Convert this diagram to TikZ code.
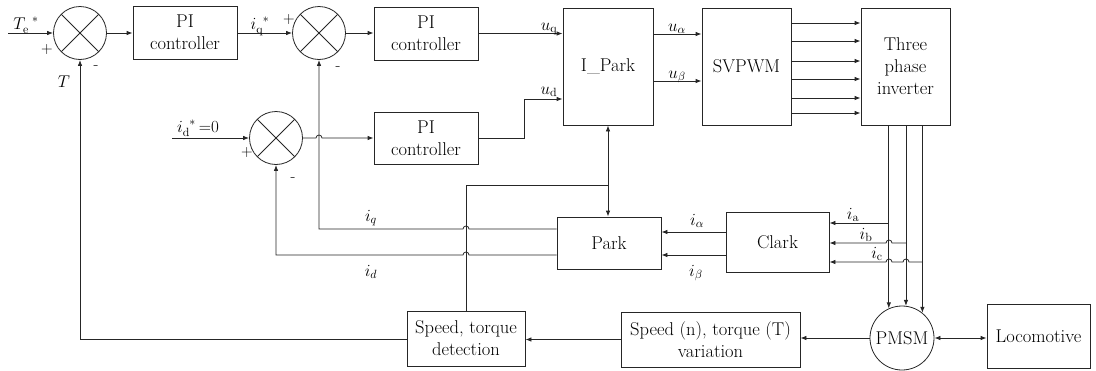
\RequirePackage{fix-cm}
\documentclass[tikz,border=0pt]{standalone}
\usetikzlibrary{arrows.meta,calc}
\newcommand\bfs{\fontsize{18.5}{22}\selectfont}
\newcommand\lfs{\fontsize{17}{19}\selectfont}
\newcommand\sfz{\fontsize{16}{16}\selectfont}
\begin{document}
\begin{tikzpicture}[x=1pt,y=-1pt, line width=0.8pt, draw=black!85,
  >={Latex[length=6pt,width=4.5pt]},
  blk/.style={draw, inner sep=0pt, align=center, font=\bfs},
  sumc/.style={circle, draw, minimum size=53pt, inner sep=0pt,
    path picture={\draw (path picture bounding box.north west) -- (path picture bounding box.south east)
      (path picture bounding box.north east) -- (path picture bounding box.south west);}},
  lab/.style={font=\lfs, inner sep=0pt, anchor=base},
  sgn/.style={font=\sfz, inner sep=0pt}]
\useasboundingbox (0,0) rectangle (1096,370);

% blocks
\node[sumc] (s1) at (80,33) {};
\node[blk, minimum width=104pt, minimum height=53pt] (pi1) at (185,32.5) {PI\\controller};
\node[sumc] (s2) at (319,33) {};
\node[blk, minimum width=104pt, minimum height=53pt] (pi2) at (426,33.5) {PI\\controller};
\node[sumc] (s3) at (276,138) {};
\node[blk, minimum width=104pt, minimum height=52pt] (pi3) at (426,138) {PI\\controller};
\node[blk, minimum width=90pt, minimum height=117pt] (ipark) at (608,66.5) {I\_Park};
\node[blk, minimum width=89pt, minimum height=117pt] (svpwm) at (746.5,66.5) {SVPWM};
\node[blk, minimum width=89pt, minimum height=117pt] (inv) at (905.5,66.5) {Three\\phase\\inverter};
\node[blk, minimum width=104pt, minimum height=52pt] (park) at (609,243) {Park};
\node[blk, minimum width=103pt, minimum height=60pt] (clark) at (777.5,242) {Clark};
\node[blk, minimum width=118pt, minimum height=55pt] (std) at (466,338.5) {Speed, torque\\detection};
\node[blk, minimum width=179pt, minimum height=55pt] (stv) at (710.5,339.5) {Speed (n), torque (T)\\variation};
\node[blk, circle, minimum size=64pt] (pmsm) at (902,338) {PMSM};
\node[blk, minimum width=103pt, minimum height=64pt] (loco) at (1038.5,336) {Locomotive};

\coordinate (te) at (8,33);
\coordinate (idin) at (172,138);

% top row
\draw[->] (te) -- (s1.west);
\draw[->] (s1.east) -- (pi1.west |- s1.east);
\draw[->] (pi1.east |- s2.west) -- (s2.west);
\draw[->] (s2.east) -- (pi2.west |- s2.east);
\draw[->] (pi2.east) -- (ipark.west |- pi2.east);
\draw[->] (idin) -- (s3.west);
\draw[->] (s3.east) -- (316,138) arc[start angle=180,end angle=0,radius=3pt] -- (pi3.west);
\draw[->] (pi3.east) -- (524,138) -- (524,99) -- (ipark.west |- 0,99);
\draw[->] (ipark.east |- 0,34) -- (svpwm.west |- 0,34);
\draw[->] (ipark.east |- 0,81) -- (svpwm.west |- 0,81);
\foreach \yy in {23,41,61,79,98,113}
  \draw[->] (svpwm.east |- 0,\yy) -- (inv.west |- 0,\yy);

% inverter to PMSM
\foreach \a in {114,83,51}
  \draw[->] (pmsm.\a |- inv.south) -- (pmsm.\a);

% currents to Clark
\draw[->] (pmsm.114 |- 0,223) -- (clark.east |- 0,223);
\draw[->] (pmsm.83 |- 0,243) -- (892,243) arc[start angle=0,end angle=180,radius=3pt] -- (clark.east |- 0,243);
\draw[->] (pmsm.51 |- 0,262) -- (909,262) arc[start angle=0,end angle=180,radius=3pt]
  -- (892,262) arc[start angle=0,end angle=180,radius=3pt] -- (clark.east |- 0,262);

% Clark to Park
\draw[->] (clark.west |- 0,232) -- (park.east |- 0,232);
\draw[->] (clark.west |- 0,255) -- (park.east |- 0,255);

% Park feedback
\draw[->] (park.west |- 0,229) -- (469,229) arc[start angle=0,end angle=180,radius=3pt] -- (319,229) -- (s2.south);
\draw[->] (park.west |- 0,255) -- (469,255) arc[start angle=0,end angle=180,radius=3pt] -- (276,255) -- (s3.south);

% angle
\draw[<->] (ipark.south) -- (ipark.south |- park.north);
\draw (ipark.south |- 0,185) -| (std.north);

% bottom row
\draw[->] (pmsm.west) -- (stv.east |- pmsm.west);
\draw[->] (stv.west) -- (std.east |- stv.west);
\draw[<->] (pmsm.east) -- (loco.west |- pmsm.east);
\draw[->] (std.west |- 0,339) -| (s1.south);

% labels
\node[lab] (lte) at (26,29) {$T_{\mathrm{e}}^{\;\;*}$};
\node[lab] (liqs) at (260,29) {$i_{\mathrm{q}}^{\;\;*}$};
\node[lab] (lids) at (198,132) {$i_{\mathrm{d}}^{\;\;*}\,$=0};
\node[lab] (luq) at (549,30) {$u_{\mathrm{q}}$};
\node[lab] (lud) at (549,94) {$u_{\mathrm{d}}$};
\node[lab] (lua) at (677,31) {$u_{\alpha}$};
\node[lab] (lub) at (677,78) {$u_{\beta}$};
\node[lab] (liq) at (371,221) {$i_q$};
\node[lab] (lid) at (371,276) {$i_d$};
\node[lab] (lia) at (697,225) {$i_{\alpha}$};
\node[lab] (lib) at (696,276) {$i_{\beta}$};
\node[lab] (lica) at (853,219) {$i_{\mathrm{a}}$};
\node[lab] (licb) at (866,239) {$i_{\mathrm{b}}$};
\node[lab] (licc) at (877,258) {$i_{\mathrm{c}}$};
\node[lab] (lT) at (64,87) {$T$};

\node[sgn] (p1) at (47,50) {+};
\node[sgn] (m1) at (96,68) {-};
\node[sgn] (p2) at (289,20) {+};
\node[sgn] (m2) at (338,69) {-};
\node[sgn] (p3) at (247,153) {+};
\node[sgn] (m3) at (293,180) {-};
\end{tikzpicture}
\end{document}
